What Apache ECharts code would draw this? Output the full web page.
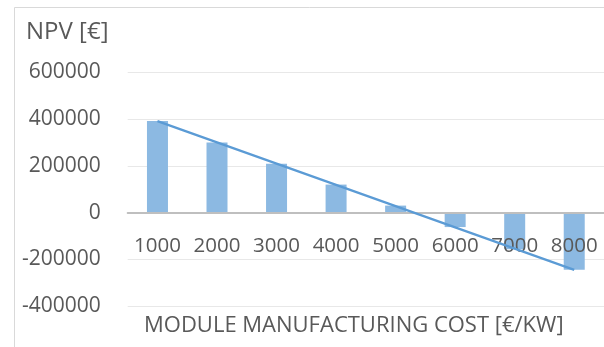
<!DOCTYPE html>
<html>
<head>
<meta charset="utf-8">
<script src="https://cdn.jsdelivr.net/npm/echarts@6/dist/echarts.min.js"></script>
<style>
  html, body { margin: 0; padding: 0; background: #ffffff; }
  #chart { width: 604px; height: 347px; }
</style>
</head>
<body>
<div id="chart"></div>
<script>
// Module manufacturing cost [€/kW]
const costs = ['1000', '2000', '3000', '4000', '5000', '6000', '7000', '8000'];
// Net present value [€] at each cost level
const npv = [392000, 300000, 209000, 120000, 30000, -62000, -157000, -245000];
// Value axis ticks
const yMin = -400000;
const yMax = 600000;
const yStep = 200000;

// Linear trendline (least squares) over the NPV values
function linearTrend(values) {
  const n = values.length;
  let sx = 0, sy = 0, sxx = 0, sxy = 0;
  values.forEach((v, i) => {
    const x = i + 1;
    sx += x; sy += v; sxx += x * x; sxy += x * v;
  });
  const slope = (n * sxy - sx * sy) / (n * sxx - sx * sx);
  const icpt = (sy - slope * sx) / n;
  return values.map((_, i) => slope * (i + 1) + icpt);
}
const trend = linearTrend(npv);

const textColor = '#595959';
const font = '"Open Sans", "Noto Sans", sans-serif';

const gridTop = 72.5;
const gridHeight = 233.5;
// distance from the bottom of the plot up to the zero line
const zeroOffset = gridHeight * (0 - yMin) / (yMax - yMin);

const chart = echarts.init(document.getElementById('chart'), null, { renderer: 'canvas' });
chart.setOption({
  animation: false,
  backgroundColor: '#ffffff',
  grid: { left: 127.7, top: gridTop, width: 477, height: gridHeight, containLabel: false },
  graphic: [
    {
      type: 'rect',
      shape: { x: 14.5, y: 7.5, width: 700, height: 400 },
      style: { fill: 'none', stroke: '#d9d9d9', lineWidth: 1 },
      silent: true
    },
    {
      type: 'text',
      left: 26, top: 20,
      style: { text: 'NPV [€]', fill: textColor, font: '24px ' + font }
    },
    {
      type: 'text',
      left: 144, top: 315,
      style: { text: 'MODULE MANUFACTURING COST [€/KW]', fill: textColor, font: '22px ' + font }
    }
  ],
  xAxis: {
    type: 'category',
    data: costs,
    z: 3,
    offset: -zeroOffset,
    axisLine: { onZero: false, lineStyle: { color: '#bfbfbf', width: 2 } },
    axisTick: { show: false },
    axisLabel: { color: textColor, fontSize: 20.5, fontFamily: font, margin: 23, interval: 0 },
    splitLine: { show: false }
  },
  yAxis: {
    type: 'value',
    min: yMin, max: yMax, interval: yStep,
    axisLine: { show: false },
    axisTick: { show: false },
    axisLabel: {
      color: textColor, fontSize: 21, fontFamily: font, margin: 27,
      formatter: v => String(v)
    },
    splitLine: { lineStyle: { color: '#e8e8e8', width: 1 } }
  },
  series: [
    {
      type: 'bar',
      data: npv,
      barWidth: 21,
      z: 2,
      itemStyle: { color: '#8cb9e2' }
    },
    {
      type: 'line',
      data: trend,
      z: 4,
      symbol: 'none',
      lineStyle: { color: '#5b9bd5', width: 2.25 }
    }
  ]
});
</script>
</body>
</html>
